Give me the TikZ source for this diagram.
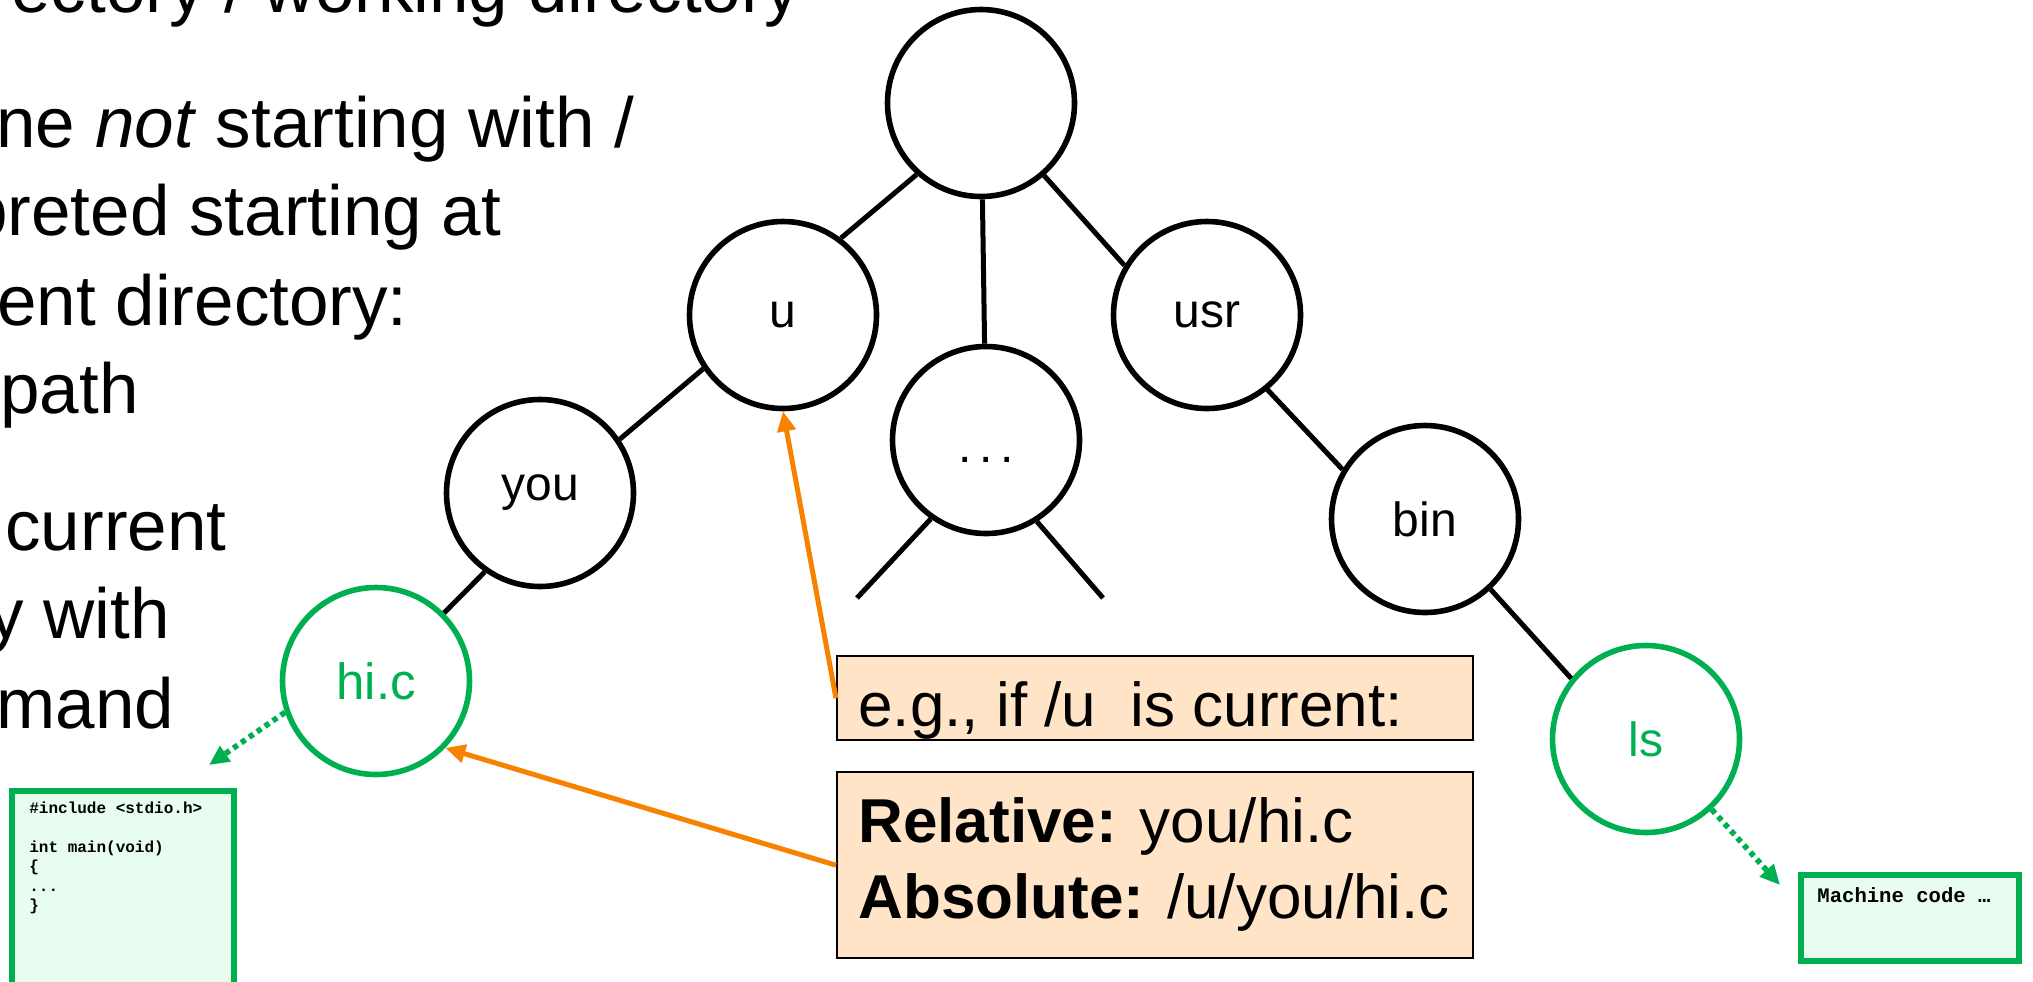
\documentclass[tikz,border=0pt]{standalone}
\usepackage{fontspec}
\setmainfont{Liberation Sans}
\setmonofont{Liberation Mono}
\usepackage{xcolor}
\usetikzlibrary{arrows.meta,positioning,calc}

\definecolor{filegreen}{HTML}{00B050}
\definecolor{mint}{HTML}{E8FDF0}
\definecolor{peach}{HTML}{FFE4C8}
\definecolor{linkorange}{HTML}{F78200}

\begin{document}
\begin{tikzpicture}[x=0.5pt,y=-0.5pt,
    dir/.style={circle, draw, line width=2.8pt, minimum size=93.5pt, inner sep=0pt, font=\fontsize{24}{28}\selectfont},
    file/.style={dir, draw=filegreen, text=filegreen},
    branch/.style={line width=2.5pt},
    slide/.style={anchor=base west, inner sep=0pt, font=\fontsize{35.5}{44.5}\selectfont},
    note/.style={draw, line width=1.2pt, fill=peach, anchor=north west, inner sep=0pt},
    notetext/.style={anchor=base west, inner sep=0pt, font=\fontsize{31}{38}\selectfont},
    codebox/.style={draw=filegreen, line width=2.8pt, fill=mint, anchor=north west, inner sep=0pt},
    code/.style={anchor=base west, inner sep=0pt, font=\ttfamily\bfseries\fontsize{8}{9.75}\selectfont},
    link/.style={draw=linkorange, line width=2.5pt, -{Triangle[length=10pt,width=9pt]}},
    makes/.style={draw=filegreen, line width=2.8pt, dash pattern=on 2.6pt off 2.2pt, -{Triangle[length=10pt,width=9pt]}}]
    \useasboundingbox (0,0) rectangle (2033,981);

    % slide text, cut at the left edge
    \node[slide] (t1) at (11,12) {ectory / working directory};
    \node[slide] (t2) at (-4,147) {ne \textit{not} starting with /};
    \node[slide] (t3) at (-32,235) {preted starting at};
    \node[slide] (t4) at (-3,325) {ent directory:};
    \node[slide] (t5) at (0,413) {path};
    \node[slide] (t6) at (5,550) {current};
    \node[slide] (t7) at (-12,638) {y with};
    \node[slide] (t8) at (-4,728) {mand};

    % directory tree
    \node[dir] (root) at (981,103) {};
    \node[dir] (u) at (783,315) {u};
    \node[dir, text height=22pt, text depth=0pt] (dots) at (986,440) {.\,.\,.};
    \node[dir] (usr) at (1207,315) {usr};
    \node[dir] (you) at (540,493) {you};
    \node[dir] (bin) at (1425,519) {bin};
    \node[file, font=\fontsize{25.5}{28}\selectfont] (hic) at (376,681) {hi.c};
    \node[file] (ls) at (1646,739) {ls};

    \draw[branch] (root.228) -- (u.53);
    \draw[branch] (root) -- (dots);
    \draw[branch] (root.-49) -- (usr.149);
    \draw[branch] (u.214) -- (you.34);
    \draw[branch] (you.235) -- (hic.45);
    \draw[branch] (usr.-51) -- (bin.149);
    \draw[branch] (bin.-47) -- (ls.141);
    \coordinate (stubl) at (857,598);
    \coordinate (stubr) at (1103,598);
    \draw[branch] (dots.235) -- (stubl);
    \draw[branch] (dots.-58) -- (stubr);

    % notes
    \node[note, minimum width=318pt, minimum height=42pt] (eg) at (836,655) {};
    \node[notetext] at (858,726) {e.g., if /u\ \ is current:};
    \node[note, minimum width=318pt, minimum height=93pt] (paths) at (836,771) {};
    \node[notetext] at (858,842) {\textbf{Relative:} you/hi.c};
    \node[notetext] at (858,918) {\textbf{Absolute:} /u/you/hi.c};
    \draw[link] (eg.west) -- (u.south);
    \draw[link] (paths.west) -- (hic.-44);

    % file contents
    \node[codebox, minimum width=111pt, minimum height=110pt] (src) at (9,788) {};
    \node[code] at (29,813) {\#include <stdio.h>};
    \node[code] at (29,852) {int main(void)};
    \node[code] at (29,871.5) {\{};
    \node[code] at (29,891) {...};
    \node[code] at (29,910.5) {\}};
    \node[codebox, minimum width=109pt, minimum height=43pt] (bin code) at (1798,872) {};
    \node[code, font=\ttfamily\bfseries\fontsize{10.3}{12}\selectfont] at (1817,902) {Machine code …};
    \coordinate (srctip) at (209,765);
    \coordinate (mctip) at (1780,885);
    \draw[makes] (hic.199) -- (srctip);
    \draw[makes] (ls.-47) -- (mctip);
\end{tikzpicture}
\end{document}
